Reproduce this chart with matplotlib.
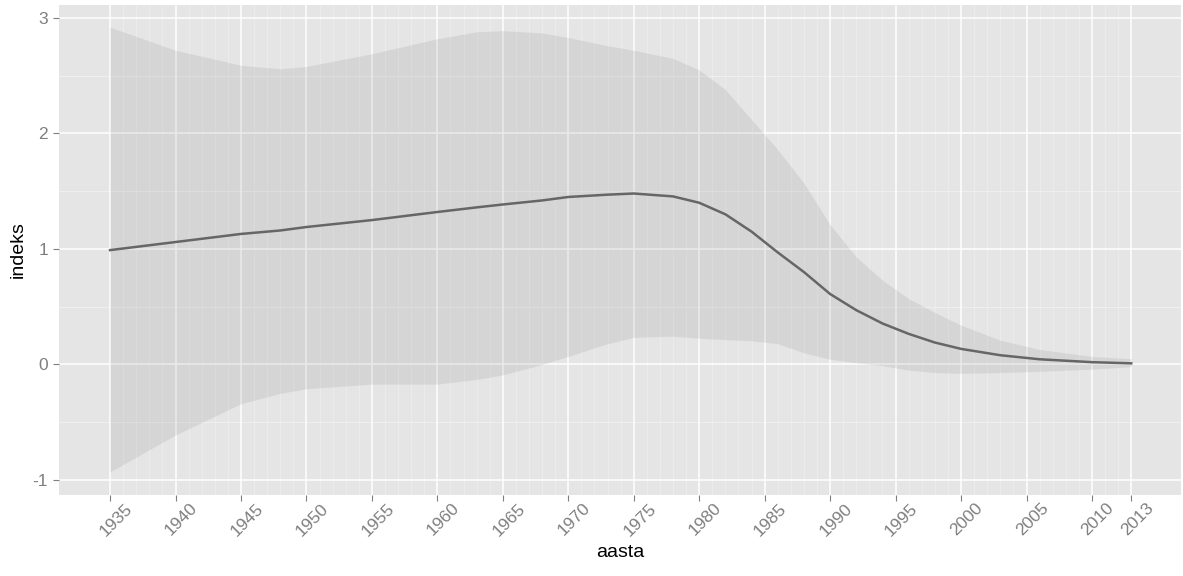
import matplotlib
matplotlib.use("Agg")
import matplotlib.pyplot as plt
import matplotlib.transforms as mtransforms

# values
years = [1935, 1940, 1945, 1948, 1950, 1955, 1960, 1963, 1965, 1968, 1970,
         1973, 1975, 1978, 1980, 1982, 1984, 1986, 1988, 1990, 1992, 1994,
         1996, 1998, 2000, 2003, 2006, 2010, 2013]
fit = [0.99, 1.06, 1.13, 1.16, 1.19, 1.25, 1.32, 1.36, 1.385, 1.42, 1.45,
       1.47, 1.48, 1.455, 1.40, 1.30, 1.15, 0.97, 0.80, 0.61, 0.47, 0.355,
       0.265, 0.19, 0.135, 0.08, 0.045, 0.02, 0.01]
upper = [2.92, 2.72, 2.59, 2.56, 2.58, 2.69, 2.82, 2.88, 2.89, 2.87, 2.83,
         2.76, 2.72, 2.65, 2.55, 2.38, 2.12, 1.86, 1.57, 1.21, 0.93, 0.73,
         0.57, 0.45, 0.34, 0.21, 0.13, 0.07, 0.05]
lower = [-0.93, -0.61, -0.34, -0.25, -0.21, -0.17, -0.17, -0.13, -0.09, 0.0, 0.07,
         0.18, 0.235, 0.245, 0.227, 0.215, 0.205, 0.18, 0.10, 0.045, 0.015, -0.01,
         -0.05, -0.07, -0.077, -0.07, -0.06, -0.04, -0.02]

x_ticks = [1935, 1940, 1945, 1950, 1955, 1960, 1965, 1970, 1975, 1980,
           1985, 1990, 1995, 2000, 2005, 2010, 2013]
y_ticks = [-1, 0, 1, 2, 3]

plt.rcParams["font.family"] = ["Liberation Sans", "DejaVu Sans"]
plt.rcParams["axes.unicode_minus"] = False

fig = plt.figure(figsize=(11.83, 5.76), dpi=100)
ax = fig.add_axes([59 / 1183, 81 / 576, 1122 / 1183, 490 / 576])
ax.set_facecolor("#E5E5E5")

# minor grid: every year vertically, half units horizontally
for yr in range(1935, 2014):
    if yr not in x_ticks:
        ax.axvline(yr, color="#EEEEEE", lw=0.5, zorder=0.5)
for v in [-0.5, 0.5, 1.5, 2.5]:
    ax.axhline(v, color="#F2F2F2", lw=0.6, zorder=0.5)
for t in x_ticks:
    ax.axvline(t, color="white", lw=1.1, zorder=0.6)
for t in y_ticks:
    ax.axhline(t, color="white", lw=1.1, zorder=0.6)

ax.fill_between(years, lower, upper, color="#999999", alpha=0.2, lw=0, zorder=1)
ax.plot(years, fit, color="#666666", lw=1.8, zorder=2)

ax.set_xlim(1931.1, 2016.8)
ax.set_ylim(-1.13, 3.112)
ax.set_xticks(x_ticks)
ax.set_xticklabels([str(t) for t in x_ticks], rotation=45, ha="center", va="top")
ax.set_yticks(y_ticks)
ax.set_yticklabels([str(t) for t in y_ticks])
for s in ax.spines.values():
    s.set_visible(False)
ax.tick_params(colors="#7F7F7F", labelsize=12.5, length=4, width=0.8)
ax.tick_params(axis="x", pad=0)
ax.tick_params(axis="y", pad=4)

shift = mtransforms.ScaledTranslation(6 / 100, 0, fig.dpi_scale_trans)
for lab in ax.get_xticklabels():
    lab.set_transform(lab.get_transform() + shift)

ax.set_xlabel("aasta", fontsize=14, labelpad=4)
ax.set_ylabel("indeks", fontsize=14)
ax.yaxis.set_label_coords(-32 / 1122, 0.5)

fig.savefig("out.png", dpi=100)
